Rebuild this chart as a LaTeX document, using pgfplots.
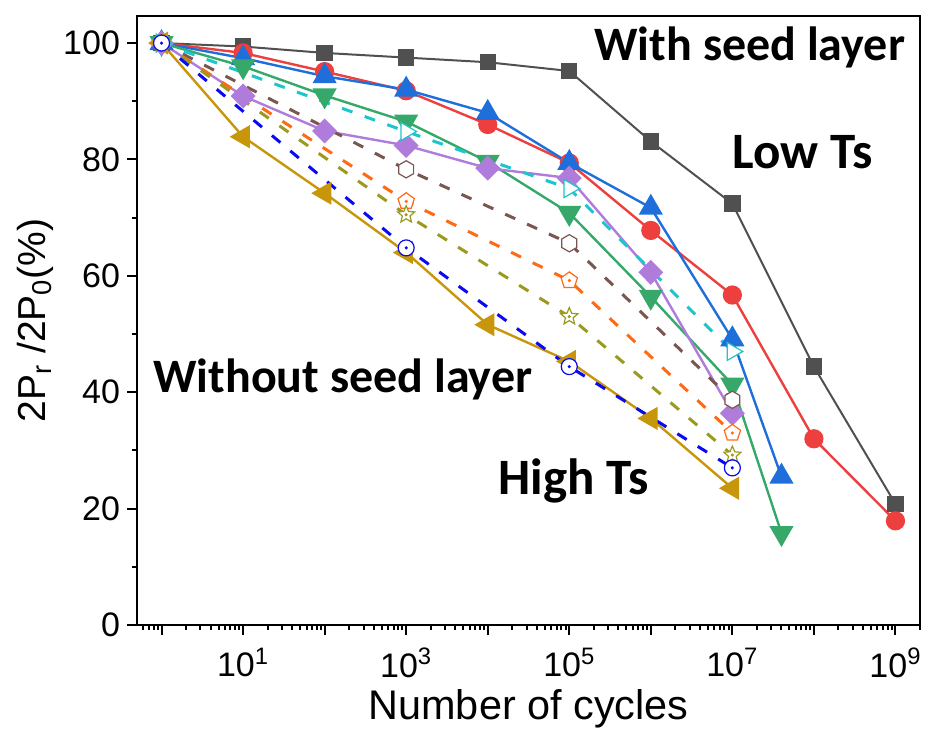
\documentclass[border=0pt]{standalone}
\usepackage{fontspec}
\setmainfont{Liberation Sans}
\newfontfamily\calib{Carlito}
\usepackage{pgfplots}
\pgfplotsset{compat=1.18}
\usetikzlibrary{plotmarks}

\definecolor{cgrey}{HTML}{505050}
\definecolor{cred}{HTML}{EE3F3F}
\definecolor{cblue}{HTML}{1F6FDB}
\definecolor{cgreen}{HTML}{36A86A}
\definecolor{cpurple}{HTML}{B07CDC}
\definecolor{ccyan}{HTML}{1CC6CC}
\definecolor{cbrown}{HTML}{7A5650}
\definecolor{corange}{HTML}{FF6A13}
\definecolor{colive}{HTML}{9A9A1E}
\definecolor{cdblue}{HTML}{0A0AF0}
\definecolor{cgold}{HTML}{C8960A}

\pgfdeclareplotmark{hexo}{%
  \pgfpathmoveto{\pgfqpointpolar{90}{\pgfplotmarksize}}%
  \pgfpathlineto{\pgfqpointpolar{150}{\pgfplotmarksize}}%
  \pgfpathlineto{\pgfqpointpolar{210}{\pgfplotmarksize}}%
  \pgfpathlineto{\pgfqpointpolar{270}{\pgfplotmarksize}}%
  \pgfpathlineto{\pgfqpointpolar{330}{\pgfplotmarksize}}%
  \pgfpathlineto{\pgfqpointpolar{30}{\pgfplotmarksize}}%
  \pgfpathclose\pgfusepathqfillstroke}
\pgfdeclareplotmark{odot}{%
  \pgfpathcircle{\pgfpointorigin}{\pgfplotmarksize}\pgfusepathqfillstroke
  \pgfpathcircle{\pgfpointorigin}{0.45pt}\pgfusepathqstroke}
\pgfdeclareplotmark{pentdot}{%
  \pgfpathmoveto{\pgfqpointpolar{90}{\pgfplotmarksize}}%
  \pgfpathlineto{\pgfqpointpolar{162}{\pgfplotmarksize}}%
  \pgfpathlineto{\pgfqpointpolar{234}{\pgfplotmarksize}}%
  \pgfpathlineto{\pgfqpointpolar{306}{\pgfplotmarksize}}%
  \pgfpathlineto{\pgfqpointpolar{18}{\pgfplotmarksize}}%
  \pgfpathclose\pgfusepathqfillstroke
  \pgfpathcircle{\pgfpointorigin}{0.45pt}\pgfusepathqstroke}
\pgfdeclareplotmark{stardot}{%
  \pgfpathmoveto{\pgfqpointpolar{90}{\pgfplotmarksize}}%
  \pgfpathlineto{\pgfqpointpolar{126}{0.45\pgfplotmarksize}}%
  \pgfpathlineto{\pgfqpointpolar{162}{\pgfplotmarksize}}%
  \pgfpathlineto{\pgfqpointpolar{198}{0.45\pgfplotmarksize}}%
  \pgfpathlineto{\pgfqpointpolar{234}{\pgfplotmarksize}}%
  \pgfpathlineto{\pgfqpointpolar{270}{0.45\pgfplotmarksize}}%
  \pgfpathlineto{\pgfqpointpolar{306}{\pgfplotmarksize}}%
  \pgfpathlineto{\pgfqpointpolar{342}{0.45\pgfplotmarksize}}%
  \pgfpathlineto{\pgfqpointpolar{18}{\pgfplotmarksize}}%
  \pgfpathlineto{\pgfqpointpolar{54}{0.45\pgfplotmarksize}}%
  \pgfpathclose\pgfusepathqfillstroke
  \pgfpathcircle{\pgfpointorigin}{0.45pt}\pgfusepathqstroke}

\begin{document}
\begin{tikzpicture}
\begin{axis}[name=ax, at={(0,0)}, anchor=south west,
  scale only axis, width=391.5pt, height=304.65pt,
  xmode=log, log basis x=10, xmin=0.5, xmax=2e9, ymin=0, ymax=104.7,
  axis line style={line width=1pt},
  every tick/.style={black, line width=1pt},
  tick align=outside, tick pos=left,
  major tick length=5pt, minor tick length=2.5pt,
  xtick={1,10,100,1e3,1e4,1e5,1e6,1e7,1e8,1e9},
  xticklabels={,10\textsuperscript{1},,10\textsuperscript{3},,10\textsuperscript{5},,10\textsuperscript{7},,10\textsuperscript{9}},
  minor xtick={0.6,0.7,0.8,0.9,2,3,4,5,6,7,8,9,20,30,40,50,60,70,80,90,200,300,400,500,600,700,800,900,2e3,3e3,4e3,5e3,6e3,7e3,8e3,9e3,2e4,3e4,4e4,5e4,6e4,7e4,8e4,9e4,2e5,3e5,4e5,5e5,6e5,7e5,8e5,9e5,2e6,3e6,4e6,5e6,6e6,7e6,8e6,9e6,2e7,3e7,4e7,5e7,6e7,7e7,8e7,9e7,2e8,3e8,4e8,5e8,6e8,7e8,8e8,9e8,2e9},
  ytick={0,20,40,60,80,100}, minor ytick={10,30,50,70,90},
  /pgf/number format/assume math mode=true,
  tick label style={font=\fontsize{17}{20}\selectfont},
  xticklabel style={yshift=-3pt},
  xlabel={Number of cycles},
  ylabel={2P\textsubscript{r} /2P\textsubscript{0}(\%)},
  label style={font=\fontsize{19.5}{22}\selectfont},
  xlabel style={at={(axis description cs:0.5,-0.1545)}, anchor=base, font=\fontsize{20.7}{23}\selectfont},
  ylabel style={at={(axis description cs:-0.1303,0.5)}, anchor=center},
]
% with seed layer
\addplot[color=cgrey, line width=1pt, mark=square*, mark size=3.6pt, mark options={solid}]
 coordinates {(1,100)(10,99.4)(100,98.3)(1e3,97.5)(1e4,96.7)(1e5,95.2)(1e6,83.1)(1e7,72.4)(1e8,44.4)(1e9,20.8)};
\addplot[color=cred, line width=1.2pt, mark=*, mark size=4.2pt, mark options={solid}]
 coordinates {(1,100)(10,98.3)(100,95.1)(1e3,91.8)(1e4,86.0)(1e5,79.4)(1e6,67.8)(1e7,56.7)(1e8,32.0)(1e9,17.9)};
\addplot[color=cblue, line width=1.2pt, mark=triangle*, mark size=5.8pt, mark options={solid}]
 coordinates {(1,100)(10,97.4)(100,94.3)(1e3,92.0)(1e4,88.0)(1e5,79.4)(1e6,71.7)(1e7,49.1)(4e7,25.5)};
\addplot[color=cgreen, line width=1.2pt, mark=triangle*, mark size=5.8pt, mark options={solid, rotate=180}]
 coordinates {(1,100)(10,96.0)(100,91.0)(1e3,86.5)(1e4,79.6)(1e5,70.8)(1e6,56.4)(1e7,41.3)(4e7,15.8)};
\addplot[color=cpurple, line width=1.2pt, mark=diamond*, mark size=5.4pt, mark options={solid, xscale=1.33}]
 coordinates {(1,100)(10,90.9)(100,84.9)(1e3,82.4)(1e4,78.5)(1e5,76.8)(1e6,60.6)(1e7,36.4)};
% without seed layer (dashed)
\addplot[color=ccyan, line width=1.5pt, dash pattern=on 5.5pt off 6.5pt, mark=triangle*, mark size=5.2pt, mark options={solid, rotate=-90, fill=white, line width=0.6pt}]
 coordinates {(1,100)(1e3,84.8)(1e5,75.0)(1e7,47.0)};
\addplot[color=cbrown, line width=1.5pt, dash pattern=on 5.5pt off 6.5pt, mark=hexo, mark size=4.3pt, mark options={solid, fill=white, line width=0.6pt}]
 coordinates {(1,100)(1e3,78.3)(1e5,65.6)(1e7,38.7)};
\addplot[color=corange, line width=1.5pt, dash pattern=on 5.5pt off 6.5pt, mark=pentdot, mark size=4.3pt, mark options={solid, fill=white, line width=0.6pt}]
 coordinates {(1,100)(1e3,72.8)(1e5,59.2)(1e7,33.0)};
\addplot[color=colive, line width=1.5pt, dash pattern=on 5.5pt off 6.5pt, mark=stardot, mark size=4.5pt, mark options={solid, fill=white, line width=0.6pt}]
 coordinates {(1,100)(1e3,70.5)(1e5,53.0)(1e7,29.2)};
\addplot[color=cgold, line width=1.2pt, mark=triangle*, mark size=5.5pt, mark options={solid, rotate=90}]
 coordinates {(1,100)(10,83.9)(100,74.2)(1e3,64.0)(1e4,51.6)(1e5,45.3)(1e6,35.5)(1e7,23.5)};
\addplot[color=cdblue, line width=1.5pt, dash pattern=on 5.5pt off 6.5pt, mark=odot, mark size=4pt, mark options={solid, fill=white, line width=0.6pt}]
 coordinates {(1,100)(1e3,64.8)(1e5,44.4)(1e7,27.0)};

\node[anchor=base west, inner sep=0pt, font=\calib\bfseries\fontsize{24}{26}\selectfont] at (rel axis cs:0.5837,0.927) {With seed layer};
\node[anchor=base west, inner sep=0pt, font=\calib\bfseries\fontsize{25.5}{28}\selectfont] at (rel axis cs:0.760,0.750) {Low Ts};
\node[anchor=base west, inner sep=0pt, font=\calib\bfseries\fontsize{24}{26}\selectfont] at (rel axis cs:0.0204,0.382) {Without seed layer};
\node[anchor=base west, inner sep=0pt, font=\calib\bfseries\fontsize{25.5}{28}\selectfont] at (rel axis cs:0.461,0.2134) {High Ts};
\end{axis}
\pgfresetboundingbox
\path ([shift={(-68.5pt,-52pt)}]ax.south west) rectangle ([shift={(3.5pt,7.85pt)}]ax.north east);
\end{tikzpicture}
\end{document}
